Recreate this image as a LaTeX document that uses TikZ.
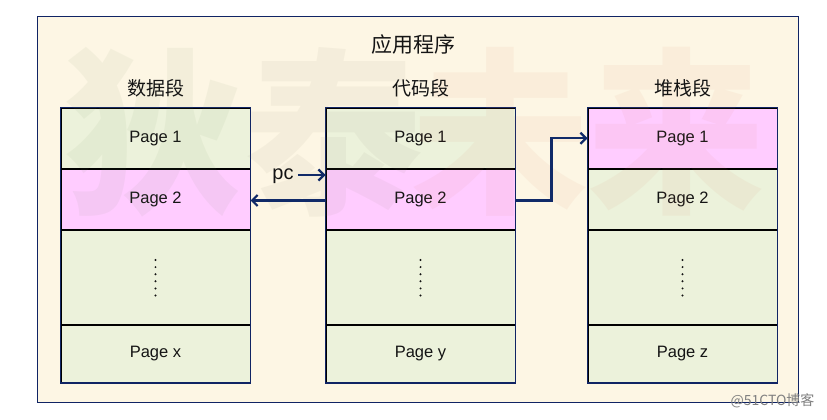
\documentclass[tikz,border=0pt]{standalone}
\usepackage{fontspec}
\setmainfont{Liberation Sans}
\newfontfamily\cjk{Noto Sans CJK SC}
\usetikzlibrary{arrows.meta,calc}
\definecolor{cream}{RGB}{253,246,228}
\definecolor{navy}{RGB}{16,36,100}
\definecolor{pgreen}{RGB}{236,242,219}
\definecolor{ppink}{RGB}{255,204,255}
\definecolor{arrowblue}{RGB}{16,42,104}
\definecolor{txt}{RGB}{20,20,20}
\definecolor{wmA}{RGB}{110,140,90}
\definecolor{wmB}{RGB}{130,120,100}
\definecolor{wmC}{RGB}{215,120,90}
\tikzset{
  cell/.style={draw=black, line width=1pt, minimum width=189pt, inner sep=0pt,
    anchor=north west, font=\fontsize{16.5}{18}\selectfont, text=txt},
  frame/.style={draw=navy, line width=1.2pt},
  arr/.style={draw=arrowblue, line width=2.2pt, -{Straight Barb[length=5.5pt,width=11pt]}},
  seglabel/.style={font=\cjk\fontsize{19}{21}\selectfont, text=txt},
  wmark/.style={font=\cjk\bfseries\fontsize{178}{178}\selectfont, text opacity=0.065, inner sep=0pt}
}
\newcommand\segcolumn[5]{%
  \node[cell, fill=#3, minimum height=60.5pt] (#1a) at (#2,107.5) {Page 1};
  \node[cell, fill=#4, minimum height=60pt] (#1b) at (#1a.south west) {Page 2};
  \node[cell, fill=pgreen, minimum height=94pt] (#1c) at (#1b.south west) {};
  \node[cell, fill=pgreen, minimum height=57pt] (#1d) at (#1c.south west) {Page #5};
  \foreach \k in {0,...,5} \fill[txt] ($(#1c.center)+(0,-17.5+7.1*\k)$) circle (1.1pt);
  \draw[frame] (#1a.north west) rectangle (#1d.south east);
}
\begin{document}
\begin{tikzpicture}[x=1pt,y=-1pt]
  \useasboundingbox (0,0) rectangle (827,420);
  \fill[white] (0,0) rectangle (827,420);
  \draw[navy, fill=cream, line width=1pt] (37,17) rectangle (798,402);

  \segcolumn{d}{60.5}{pgreen}{ppink}{x}
  \segcolumn{c}{325.5}{pgreen}{ppink}{y}
  \segcolumn{s}{587.5}{ppink}{pgreen}{z}

  % faint watermark
  \node[wmark, text=wmA] (wm1) at (153,132) {狄};
  \node[wmark, text=wmB] (wm2) at (333,132) {泰};
  \node[wmark, text=wmC] (wm3) at (500,132) {未};
  \node[wmark, text=wmC] (wm4) at (676,132) {来};

  \node[font=\cjk\fontsize{21}{23}\selectfont, text=txt] (title) at (413,45) {应用程序};
  \node[seglabel] (ld) at ($(da.north)+(0,-19.5)$) {数据段};
  \node[seglabel] (lc) at ($(ca.north)+(0,-19.5)$) {代码段};
  \node[seglabel] (ls) at ($(sa.north)+(0,-19.5)$) {堆栈段};

  \node[font=\fontsize{20}{22}\selectfont, text=txt, inner sep=2pt] (pc) at (283,176) {pc};
  \coordinate (pcs) at ($(pc.east)+(2,-1)$);
  \draw[arr] (pcs) -- (pcs -| cb.west);
  \coordinate (back) at ($(cb.west)+(0,1)$);
  \draw[arr] (back) -- (back -| db.east);
  \coordinate (fwd) at ($(cb.east)+(0,1)$);
  \draw[arr] (fwd) -- ++(36,0) |- (sa.west);

  \node[font=\cjk\fontsize{14}{16}\selectfont, text=black!50, anchor=east] (brand) at (818,401) {@51CTO博客};
\end{tikzpicture}
\end{document}
